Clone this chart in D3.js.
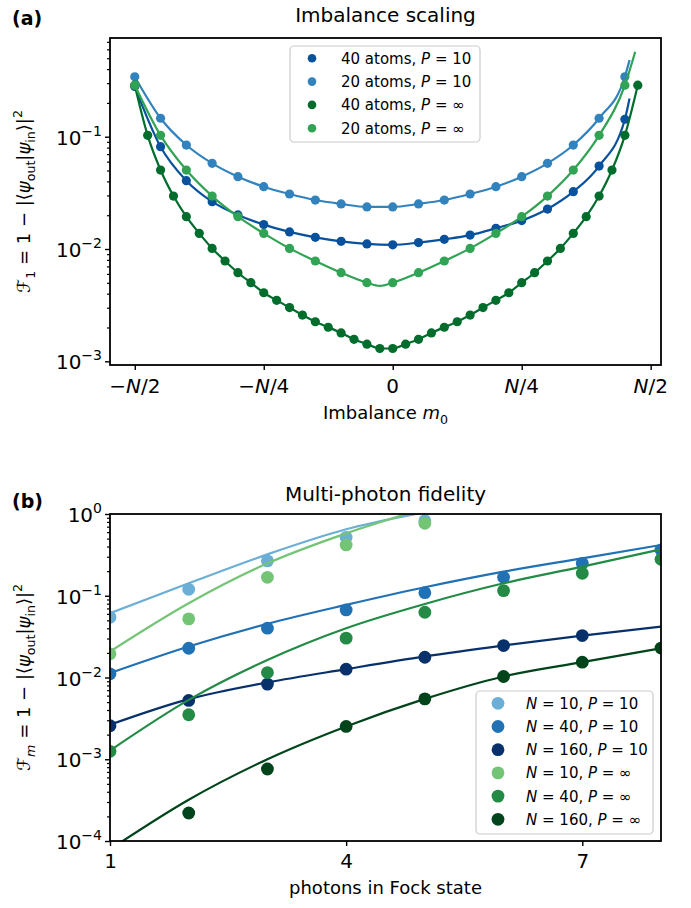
<!DOCTYPE html>
<html>
<head>
<meta charset="utf-8">
<script src="https://cdn.jsdelivr.net/npm/d3@7"></script>
<style>
body { margin: 0; background: #fff; }
text { font-family: "DejaVu Sans", sans-serif; fill: #000; white-space: pre; }
</style>
</head>
<body>
<svg width="691" height="908"></svg>
<script>
// ---- panel (a): imbalance scaling ----
var imbTicks = [-0.5, -0.25, 0, 0.25, 0.5];
var imbTickLabels = [['−', 'N', '/2'], ['−', 'N', '/4'], ['', '', '0'], ['', 'N', '/4'], ['', 'N', '/2']];

var m40 = [-20,-19,-18,-17,-16,-15,-14,-13,-12,-11,-10,-9,-8,-7,-6,-5,-4,-3,-2,-1,0,1,2,3,4,5,6,7,8,9,10,11,12,13,14,15,16,17,18,19];
var m40even = [-20,-18,-16,-14,-12,-10,-8,-6,-4,-2,0,2,4,6,8,10,12,14,16,18];
var m20 = [-10,-9,-8,-7,-6,-5,-4,-3,-2,-1,0,1,2,3,4,5,6,7,8,9];

var a40P10 = [0.28, 0.0815, 0.0406, 0.0264, 0.0201, 0.0165, 0.0142, 0.0127, 0.0117, 0.0111,
  0.0109, 0.0114, 0.0122, 0.0133, 0.0153, 0.0179, 0.0227, 0.0324, 0.0548, 0.143];
var a20P10 = [0.342, 0.146, 0.0843, 0.0579, 0.0441, 0.0359, 0.0309, 0.0273, 0.0252, 0.0237,
  0.0237, 0.0252, 0.0273, 0.0309, 0.0359, 0.0441, 0.0579, 0.0843, 0.146, 0.342];
var a40Pinf = [0.288, 0.1028, 0.0505, 0.0296, 0.0194, 0.01378, 0.01013, 0.00782, 0.00615, 0.00501,
  0.00408, 0.00349, 0.00301, 0.00258, 0.00225, 0.00201, 0.00179, 0.00157, 0.00142, 0.0013,
  0.0013, 0.00142, 0.00157, 0.00179, 0.00201, 0.00225, 0.00258, 0.00301, 0.00349, 0.00408,
  0.00501, 0.00615, 0.00782, 0.01013, 0.01378, 0.0194, 0.0296, 0.0505, 0.1028, 0.288];
var a20Pinf = [0.288, 0.1028, 0.0505, 0.0296, 0.0194, 0.01378, 0.01013, 0.00782, 0.00615, 0.00501,
  0.00501, 0.00615, 0.00782, 0.01013, 0.01378, 0.0194, 0.0296, 0.0505, 0.1028, 0.288];

// extra points of the fitted curves (fraction m0/N, value)
var a40P10Fit = [[0.459, 0.219]];
var a20P10Fit = [[0.459, 0.482]];
var a40PinfFit = [];
var a20PinfFit = [[-0.025, 0.00469], [0.47, 0.571]];

var aLabels = ['40 atoms, ', '20 atoms, ', '40 atoms, ', '20 atoms, '];
var aPvals = ['10', '10', '∞', '∞'];
var aColors = ['#08519c', '#3182bd', '#006d2c', '#31a354'];

// ---- panel (b): multi-photon fidelity ----
var photonTicks = [1, 4, 7];
var photons = [1, 2, 3, 4, 5, 6, 7, 8];

var bN10P10 = [0.0546, 0.12, 0.267, 0.519, 0.829];
var bN40P10 = [0.0111, 0.0228, 0.0401, 0.0671, 0.109, 0.168, 0.249, 0.363];
var bN160P10 = [0.00257, 0.00524, 0.0083, 0.01265, 0.0177, 0.0246, 0.0326];
var bN10Pinf = [0.0195, 0.0521, 0.168, 0.418, 0.769];
var bN40Pinf = [0.00125, 0.0035, 0.0115, 0.0303, 0.0628, 0.1156, 0.188, 0.279];
var bN160Pinf = [null, 0.00022, 0.00076, 0.00252, 0.00548, 0.01028, 0.0154, 0.0229];

var bN10P10Fit = [0.0611, 0.142, 0.321, 0.65, 1.05];
var bN40P10Fit = [0.0113, 0.0239, 0.0453, 0.0773, 0.127, 0.197, 0.287, 0.418];
var bN160P10Fit = [0.00264, 0.00543, 0.00869, 0.01265, 0.0181, 0.0246, 0.0326, 0.042];
var bN10PinfFit = [0.0208, 0.081, 0.249, 0.58, 1.17];
var bN40PinfFit = [0.00128, 0.00533, 0.0164, 0.0401, 0.0794, 0.142, 0.227, 0.37];
var bN160PinfFit = [0.000079, 0.00032, 0.001, 0.00252, 0.00548, 0.0103, 0.0154, 0.0228];

var bNvals = ['10', '40', '160', '10', '40', '160'];
var bPvals = ['10', '10', '10', '∞', '∞', '∞'];
var bColors = ['#6baed6', '#2171b5', '#08306b', '#74c476', '#238b45', '#00441b'];

var tickSize = 20;
var svg = d3.select('svg');

// text with italic / sub / superscript pieces
function rich(sel, parts, size) {
  var shift = 0;
  parts.forEach(function(p) {
    var target = p.s === 'sub' ? 0.25 * size : (p.s === 'sup' ? -0.45 * size : 0);
    var ts = sel.append('tspan')
      .text(p.t)
      .attr('dy', target - shift)
      .style('font-size', (p.s ? 0.7 * size : size) + 'px');
    if (p.i) ts.style('font-style', 'italic');
    shift = target;
  });
  return sel;
}

function isDecade(v) {
  var l = Math.log10(v);
  return Math.abs(l - Math.round(l)) < 1e-9;
}

function logAxis(g, y, left) {
  var all = y.ticks();
  var majors = all.filter(isDecade);
  var minors = all.filter(d => !isDecade(d));
  g.append('g')
    .attr('transform', 'translate(' + left + ',0)')
    .call(d3.axisLeft(y).tickValues(minors).tickSize(3).tickFormat(''))
    .call(s => s.select('.domain').remove())
    .selectAll('line').attr('stroke-width', 1.2);
  g.append('g')
    .attr('transform', 'translate(' + left + ',0)')
    .call(d3.axisLeft(y).tickValues(majors).tickSize(5).tickFormat(''))
    .call(s => s.select('.domain').remove())
    .selectAll('line').attr('stroke-width', 1.4);
  majors.forEach(function(v) {
    var e = Math.round(Math.log10(v));
    var t = g.append('text')
      .attr('x', left - 8)
      .attr('y', y(v) + 8)
      .attr('text-anchor', 'end');
    rich(t, [{t: '10'}, {t: (e < 0 ? '−' : '') + Math.abs(e), s: 'sup'}], tickSize);
  });
}

function addClip(id, x0, y0, w, h) {
  svg.append('clipPath').attr('id', id)
    .append('rect').attr('x', x0).attr('y', y0).attr('width', w).attr('height', h);
}

// ================= panel (a) =================
var A = {left: 110, right: 661, top: 38, bottom: 365};
var xA = d3.scaleLinear().domain([-0.548, 0.52]).range([A.left, A.right]);
var yA = d3.scaleLog().domain([9.27e-4, 0.757]).range([A.bottom, A.top]);
addClip('clipA', A.left, A.top, A.right - A.left, A.bottom - A.top);

var gA = svg.append('g');
var aSeries = [
  {n: 40, m: m40even, v: a40P10, fit: a40P10Fit},
  {n: 20, m: m20, v: a20P10, fit: a20P10Fit},
  {n: 40, m: m40, v: a40Pinf, fit: a40PinfFit},
  {n: 20, m: m20, v: a20Pinf, fit: a20PinfFit}
];
var lineA = d3.line().x(d => xA(d[0])).y(d => yA(d[1])).curve(d3.curveMonotoneX);

aSeries.forEach(function(s, i) {
  var pts = s.m.map((m, j) => [m / s.n, s.v[j]]);
  var linePts = pts.concat(s.fit).sort((p, q) => p[0] - q[0]);
  var g = gA.append('g').attr('clip-path', 'url(#clipA)');
  g.append('path')
    .attr('d', lineA(linePts))
    .attr('fill', 'none')
    .attr('stroke', aColors[i])
    .attr('stroke-width', 2.2);
  g.selectAll('circle')
    .data(pts)
    .enter()
    .append('circle')
    .attr('cx', d => xA(d[0]))
    .attr('cy', d => yA(d[1]))
    .attr('r', 4.6)
    .attr('fill', aColors[i]);
});

logAxis(gA, yA, A.left);

gA.append('g')
  .attr('transform', 'translate(0,' + A.bottom + ')')
  .call(d3.axisBottom(xA).tickValues(imbTicks).tickSize(5).tickFormat(''))
  .call(s => s.select('.domain').remove())
  .selectAll('line').attr('stroke-width', 1.4);

imbTicks.forEach(function(v, i) {
  var lab = imbTickLabels[i];
  var t = gA.append('text')
    .attr('x', xA(v))
    .attr('y', A.bottom + 28)
    .attr('text-anchor', 'middle');
  rich(t, [{t: lab[0]}, {t: lab[1], i: true}, {t: lab[2]}], tickSize);
});

gA.append('rect')
  .attr('x', A.left).attr('y', A.top)
  .attr('width', A.right - A.left).attr('height', A.bottom - A.top)
  .attr('fill', 'none').attr('stroke', '#000').attr('stroke-width', 1.8);

// legend (a)
var legA = gA.append('g');
legA.append('rect')
  .attr('x', 290).attr('y', 46).attr('width', 190).attr('height', 96).attr('rx', 4)
  .attr('fill', '#fff').attr('fill-opacity', 0.8)
  .attr('stroke', '#ccc').attr('stroke-width', 1.2);
aLabels.forEach(function(l, i) {
  var yy = 58.3 + i * 23.3;
  legA.append('circle').attr('cx', 312).attr('cy', yy).attr('r', 4.3).attr('fill', aColors[i]);
  var t = legA.append('text').attr('x', 341).attr('y', yy + 5.5);
  rich(t, [{t: l}, {t: 'P', i: true}, {t: ' = ' + aPvals[i]}], 15);
});

svg.append('text')
  .attr('x', (A.left + A.right) / 2).attr('y', 22)
  .attr('text-anchor', 'middle')
  .style('font-size', '20px')
  .text('Imbalance scaling');

svg.append('text')
  .attr('x', 12).attr('y', 25)
  .style('font-size', '19px').style('font-weight', 'bold')
  .text('(a)');

rich(svg.append('text')
  .attr('x', (A.left + A.right) / 2).attr('y', A.bottom + 54)
  .attr('text-anchor', 'middle'),
  [{t: 'Imbalance '}, {t: 'm', i: true}, {t: '0', s: 'sub'}], 18);

rich(svg.append('text')
  .attr('transform', 'translate(30,' + (A.top + A.bottom) / 2 + ') rotate(-90)')
  .attr('text-anchor', 'middle'),
  [{t: 'ℱ'}, {t: '1', s: 'sub'}, {t: ' = 1 − |⟨'}, {t: 'ψ', i: true}, {t: 'out', s: 'sub'},
   {t: '|'}, {t: 'ψ', i: true}, {t: 'in', s: 'sub'}, {t: '⟩|'}, {t: '2', s: 'sup'}], 18);

// ================= panel (b) =================
var B = {left: 110, right: 661, top: 514, bottom: 841};
var xB = d3.scaleLinear().domain([1, 8]).range([B.left, B.right]);
var yB = d3.scaleLog().domain([1e-4, 1]).range([B.bottom, B.top]);
addClip('clipB', B.left, B.top, B.right - B.left, B.bottom - B.top);

var gB = svg.append('g');
var bSeries = [
  {v: bN10P10, fit: bN10P10Fit},
  {v: bN40P10, fit: bN40P10Fit},
  {v: bN160P10, fit: bN160P10Fit},
  {v: bN10Pinf, fit: bN10PinfFit},
  {v: bN40Pinf, fit: bN40PinfFit},
  {v: bN160Pinf, fit: bN160PinfFit}
];
var lineB = d3.line().x(d => xB(d[0])).y(d => yB(d[1])).curve(d3.curveMonotoneX);

bSeries.forEach(function(s, i) {
  var g = gB.append('g').attr('clip-path', 'url(#clipB)');
  g.append('path')
    .attr('d', lineB(s.fit.map((v, j) => [photons[j], v])))
    .attr('fill', 'none')
    .attr('stroke', bColors[i])
    .attr('stroke-width', 2.2);
  g.selectAll('circle')
    .data(s.v.map((v, j) => [photons[j], v]).filter(d => d[1] != null))
    .enter()
    .append('circle')
    .attr('cx', d => xB(d[0]))
    .attr('cy', d => yB(d[1]))
    .attr('r', 6.4)
    .attr('fill', bColors[i]);
});

logAxis(gB, yB, B.left);

gB.append('g')
  .attr('transform', 'translate(0,' + B.bottom + ')')
  .call(d3.axisBottom(xB).tickValues(photonTicks).tickSize(5).tickPadding(8).tickFormat(d3.format('d')))
  .call(s => s.select('.domain').remove())
  .call(s => s.selectAll('line').attr('stroke-width', 1.4))
  .call(s => s.selectAll('text').style('font-size', tickSize + 'px').attr('font-family', null));

gB.append('rect')
  .attr('x', B.left).attr('y', B.top)
  .attr('width', B.right - B.left).attr('height', B.bottom - B.top)
  .attr('fill', 'none').attr('stroke', '#000').attr('stroke-width', 1.8);

// legend (b)
var legB = gB.append('g');
legB.append('rect')
  .attr('x', 476).attr('y', 691).attr('width', 177).attr('height', 143).attr('rx', 4)
  .attr('fill', '#fff').attr('fill-opacity', 0.8)
  .attr('stroke', '#ccc').attr('stroke-width', 1.2);
bNvals.forEach(function(n, i) {
  var yy = 703.3 + i * 23.2;
  legB.append('circle').attr('cx', 498).attr('cy', yy).attr('r', 6.4).attr('fill', bColors[i]);
  var t = legB.append('text').attr('x', 526).attr('y', yy + 5.5);
  rich(t, [{t: 'N', i: true}, {t: ' = ' + n + ', '}, {t: 'P', i: true}, {t: ' = ' + bPvals[i]}], 15);
});

svg.append('text')
  .attr('x', (B.left + B.right) / 2).attr('y', 501)
  .attr('text-anchor', 'middle')
  .style('font-size', '20px')
  .text('Multi-photon fidelity');

svg.append('text')
  .attr('x', 12).attr('y', 508)
  .style('font-size', '19px').style('font-weight', 'bold')
  .text('(b)');

svg.append('text')
  .attr('x', (B.left + B.right) / 2).attr('y', B.bottom + 53)
  .attr('text-anchor', 'middle')
  .style('font-size', '18px')
  .text('photons in Fock state');

rich(svg.append('text')
  .attr('transform', 'translate(30,' + (B.top + B.bottom) / 2 + ') rotate(-90)')
  .attr('text-anchor', 'middle'),
  [{t: 'ℱ'}, {t: 'm', s: 'sub', i: true}, {t: ' = 1 − |⟨'}, {t: 'ψ', i: true}, {t: 'out', s: 'sub'},
   {t: '|'}, {t: 'ψ', i: true}, {t: 'in', s: 'sub'}, {t: '⟩|'}, {t: '2', s: 'sup'}], 18);
</script>
</body>
</html>
